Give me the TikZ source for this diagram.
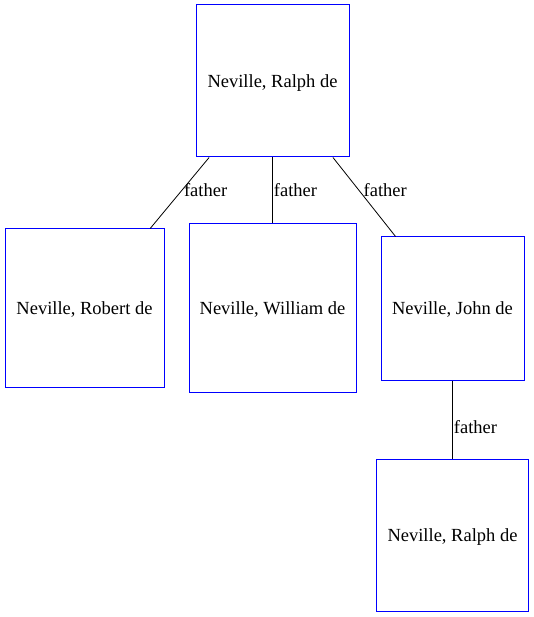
\documentclass[tikz,border=0pt]{standalone}
\usepackage{fontspec}
\setmainfont{Liberation Serif}
\usepackage{tikz}

\begin{document}
\begin{tikzpicture}[x=1pt,y=-1pt,
    person/.style={draw=blue, line width=1pt, rectangle, inner sep=0pt,
      text depth=0pt, font=\fontsize{18.5}{22}\selectfont},
    rel/.style={draw=black, line width=0.8pt},
    lbl/.style={midway, anchor=west, inner sep=1pt,
      font=\fontsize{18.5}{22}\selectfont}]

  \useasboundingbox (0,0) rectangle (534,617);

  % people
  \node[person, minimum width=153, minimum height=152] (ralph) at (272.5,81)
  {Neville, Ralph de};
  \node[person, minimum width=159, minimum height=158] (robert) at (84.5,308)
  {Neville, Robert de};
  \node[person, minimum width=167, minimum height=168] (william) at (272.5,308)
  {Neville, William de};
  \node[person, minimum width=143, minimum height=143] (john) at (452.5,308.5)
  {Neville, John de};
  \node[person, minimum width=152, minimum height=152] (ralphjr) at (452.5,535)
  {Neville, Ralph de};

  % father links
  \draw[rel] (ralph) -- (robert) node[lbl, xshift=3, yshift=3] {father};
  \draw[rel] (ralph) -- (william) node[lbl] {father};
  \draw[rel] (ralph) -- (john) node[lbl, xshift=-2, yshift=7] {father};
  \draw[rel] (john) -- (ralphjr) node[lbl, yshift=-8] {father};

\end{tikzpicture}
\end{document}
